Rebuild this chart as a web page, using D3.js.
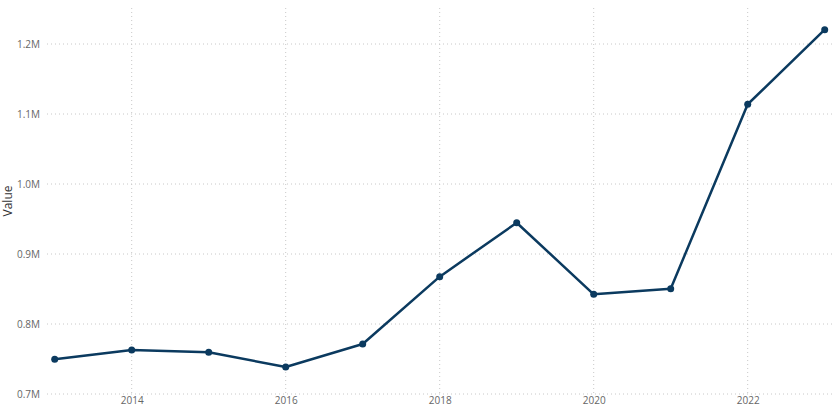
<!DOCTYPE html>
<html><head><meta charset="utf-8">
<script src="https://cdn.jsdelivr.net/npm/d3@7"></script>
<style>body{margin:0;background:#fff}svg{display:block}</style>
</head><body><svg id="c" width="833" height="409"></svg>
<script>
const years = [2013,2014,2015,2016,2017,2018,2019,2020,2021,2022,2023];
const values = [749600,762900,759600,738600,771400,867600,944700,842400,850400,1113900,1220400];
const yTicks = [700000,800000,900000,1000000,1100000,1200000];
const xTicks = [2014,2016,2018,2020,2022];

const svg = d3.select("#c");
const x = d3.scaleLinear().domain([2012.9, 2023.1]).range([47, 832.4]);
const y = d3.scaleLinear().domain([700000, 1250000]).range([394, 9]);
const font = "'Open Sans', 'Noto Sans', sans-serif";

// grid
svg.append("g").selectAll("line").data(yTicks).join("line")
  .attr("x1", 47).attr("x2", 833).attr("y1", d => y(d)).attr("y2", d => y(d))
  .attr("stroke", "#c8c8c8").attr("stroke-dasharray", "1,3");
svg.append("g").selectAll("line").data(xTicks).join("line")
  .attr("x1", d => x(d)).attr("x2", d => x(d)).attr("y1", 8).attr("y2", 394)
  .attr("stroke", "#c8c8c8").attr("stroke-dasharray", "1,3");

// y labels
const yAxis = d3.axisLeft(y).tickValues(yTicks).tickSize(0).tickPadding(0)
  .tickFormat(d => (d/1e6).toFixed(1) + "M");
const gy = svg.append("g").attr("transform", "translate(40,0)").call(yAxis);
gy.select(".domain").remove();
gy.selectAll("text").attr("fill", "#666").style("font-family", font).style("font-size", "10px");

const xAxis = d3.axisBottom(x).tickValues(xTicks).tickSize(0).tickPadding(0).tickFormat(d3.format("d"));
const gx = svg.append("g").attr("transform", "translate(0,397)").call(xAxis);
gx.select(".domain").remove();
gx.selectAll("text").attr("fill", "#666").style("font-family", font).style("font-size", "10px");

svg.append("text").attr("transform", "translate(12,201) rotate(-90)")
  .attr("text-anchor", "middle").attr("fill", "#333")
  .style("font-family", font).style("font-size", "12px").text("Value");

const data = years.map((yr,i) => ({yr, v: values[i]}));
svg.append("path").datum(data)
  .attr("fill", "none").attr("stroke", "#0b3a5f").attr("stroke-width", 2.5)
  .attr("stroke-linejoin", "round")
  .attr("d", d3.line().x(d => x(d.yr)).y(d => y(d.v)));
svg.append("g").selectAll("circle").data(data).join("circle")
  .attr("cx", d => x(d.yr)).attr("cy", d => y(d.v)).attr("r", 3.5)
  .attr("fill", "#0b3a5f");
</script></body></html>
